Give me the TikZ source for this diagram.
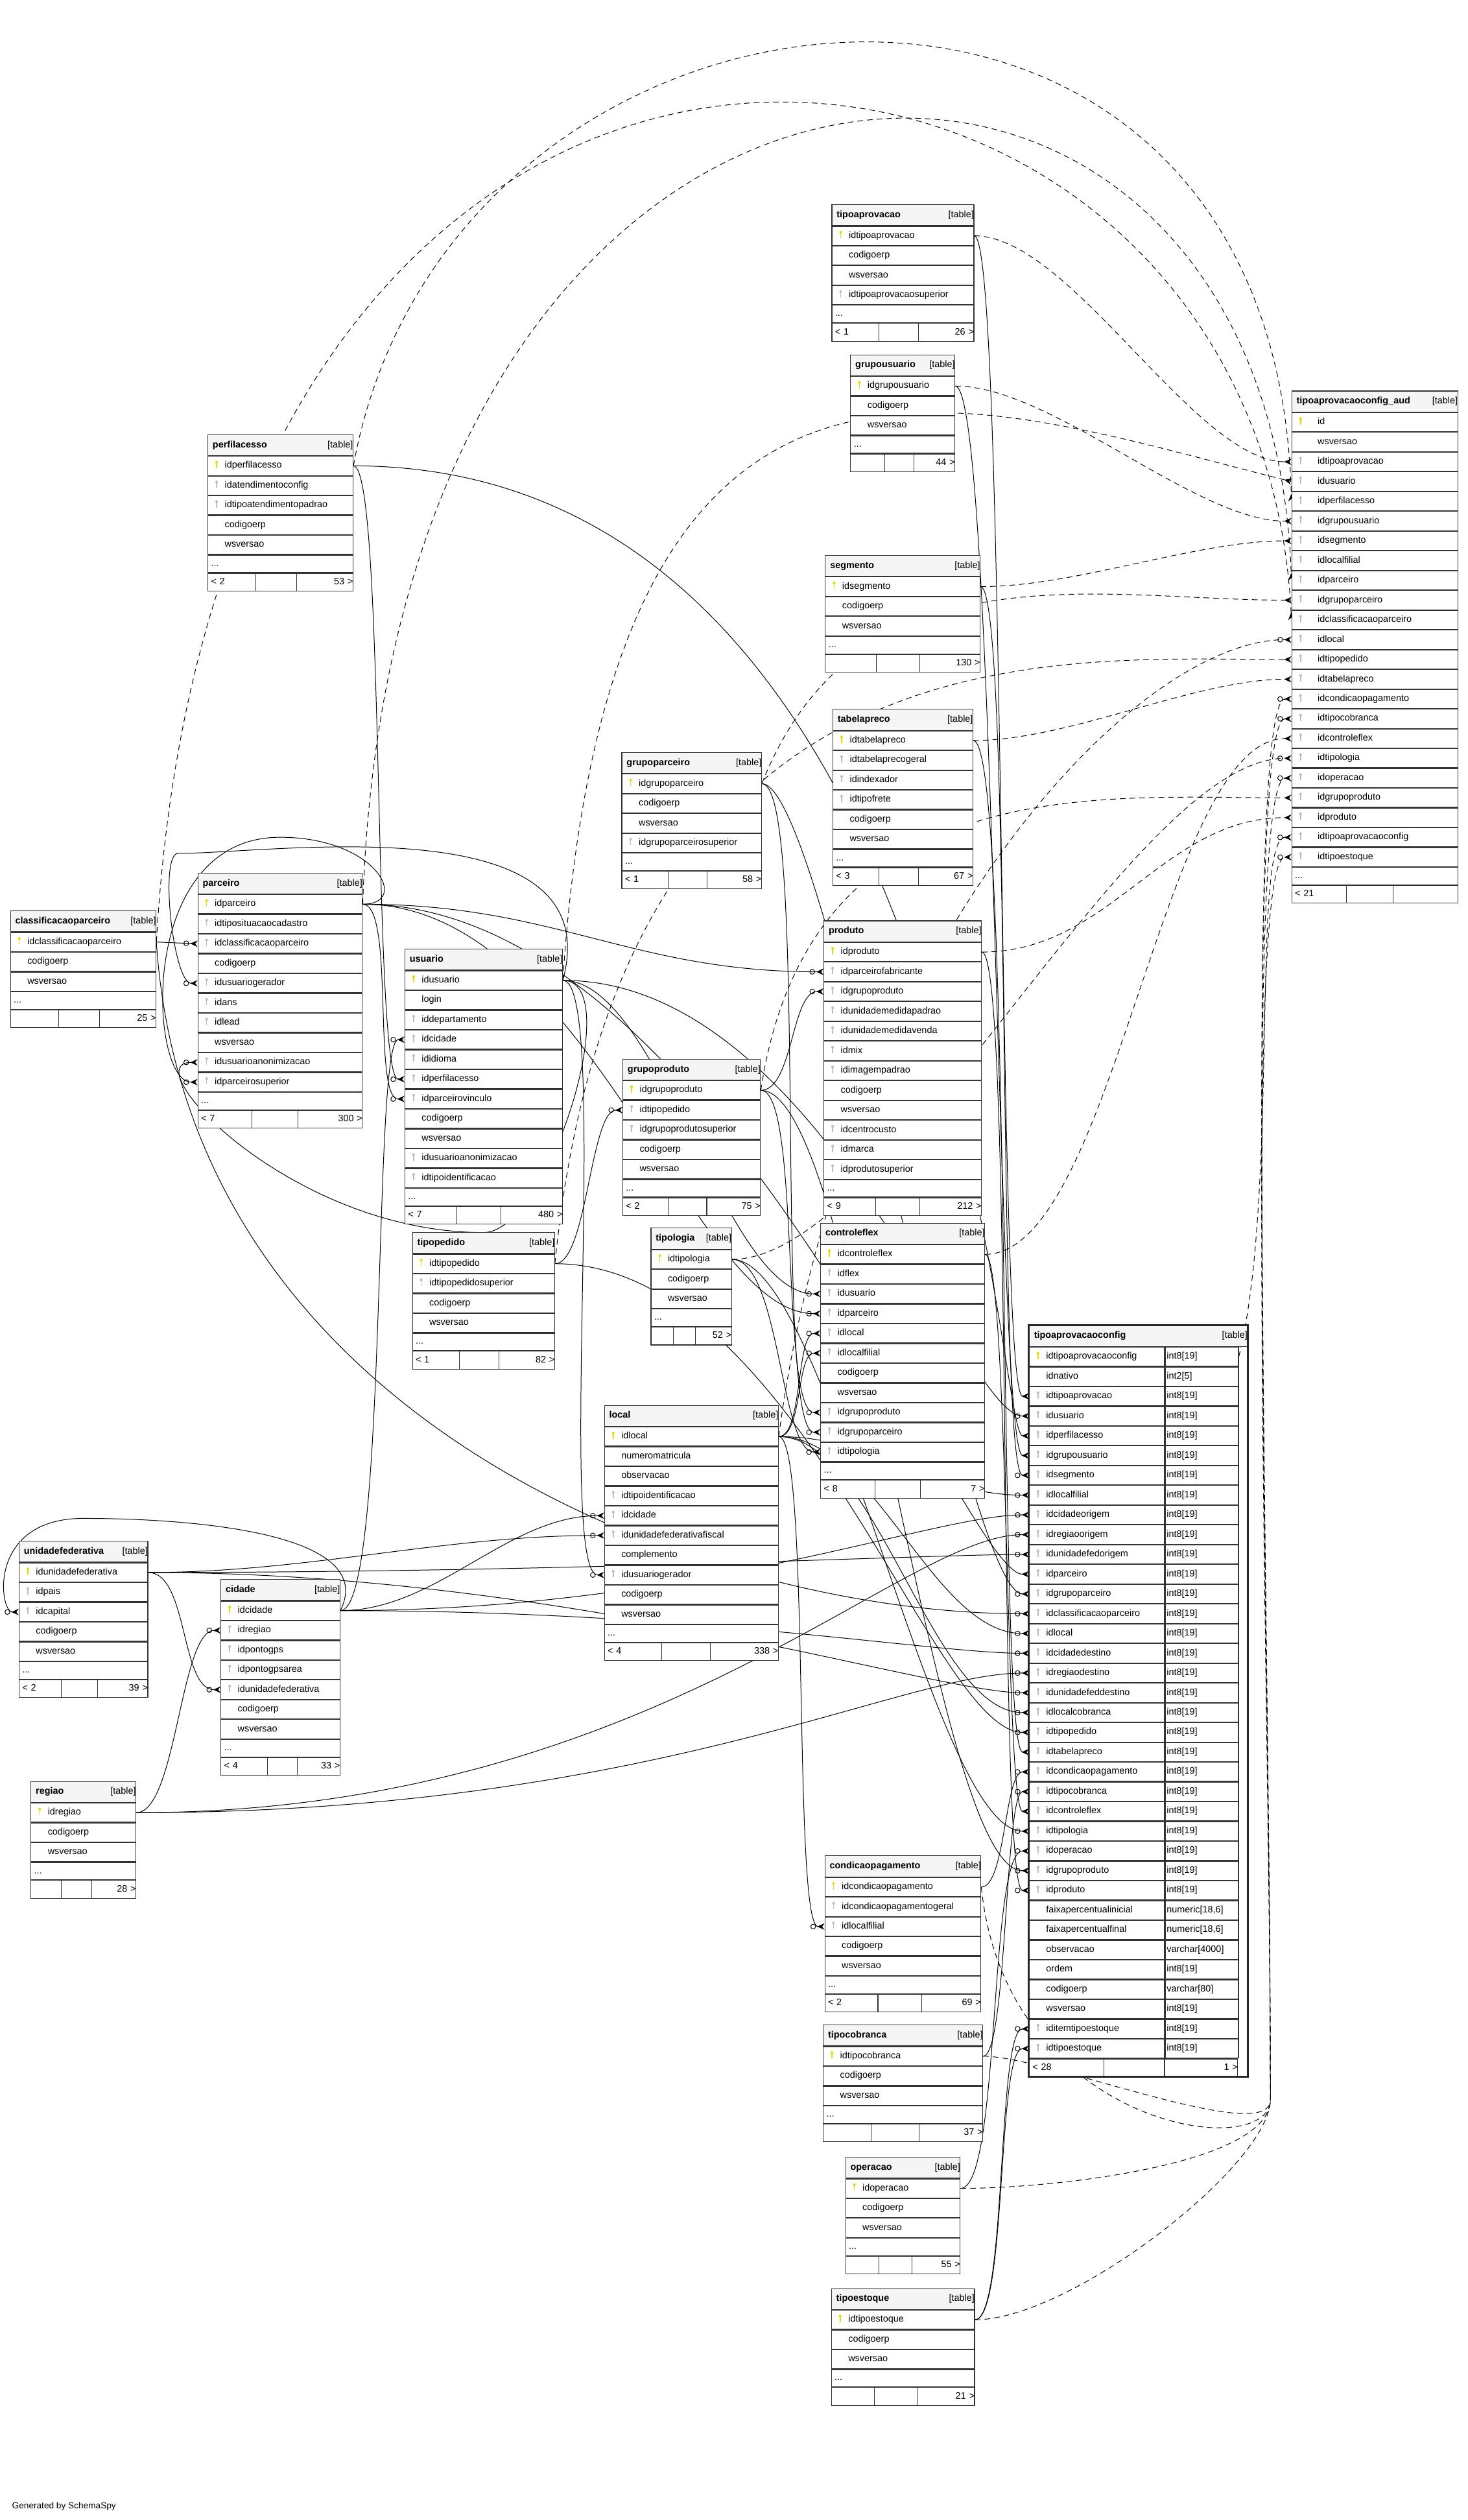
\documentclass[tikz,border=0pt]{standalone}
\usepackage{fontspec}
\setmainfont{Liberation Sans}
\usetikzlibrary{positioning, arrows.meta, calc, backgrounds}
\definecolor{keyy}{RGB}{226,220,0}
\definecolor{keyg}{RGB}{190,190,190}
\hyphenpenalty=10000
\exhyphenpenalty=10000
\newcommand{\keyicon}[1]{\tikz[baseline=0pt]{\fill[#1] (0pt,0pt) rectangle (0.6pt,3.3pt); \fill[#1] (0.3pt,3.7pt) circle (0.85pt);}}
\newcommand{\pkey}{\makebox[10.5pt][l]{\hspace{4.6pt}\keyicon{keyy}}}
\newcommand{\fkey}{\makebox[10.5pt][l]{\hspace{4.6pt}\keyicon{keyg}}}
\newcommand{\nkey}{\hspace*{10.5pt}}
\newcommand{\tblhead}[1]{\hspace*{3pt}\textbf{#1}\hskip0pt plus1filll[table]\hspace*{2.5pt}}
\newcommand{\tblfoot}[2]{\hspace*{2pt}#1\hskip0pt plus1filll#2\hspace*{2.5pt}}

\begin{document}
\begin{tikzpicture}[x=1pt, y=-1pt, font=\fontsize{5.8}{7}\selectfont,
  tline/.style={draw=black!80, line width=0.45pt},
  hdr/.style={tline, fill=black!4, anchor=north west, inner sep=0pt, minimum height=13pt, text height=4.3pt, text depth=1.4pt, align=left},
  trow/.style={tline, fill=white, inner sep=0pt, minimum height=11.83pt, text height=4.3pt, text depth=1.4pt, align=left},
  tdots/.style={trow, minimum height=10.8pt},
  ffoot/.style 2 args={trow, minimum height=11pt, path picture={
    \draw[black!80, line width=0.45pt]
      ($(path picture bounding box.north west)!#1!(path picture bounding box.north east)$) --
      ($(path picture bounding box.south west)!#1!(path picture bounding box.south east)$)
      ($(path picture bounding box.north west)!#2!(path picture bounding box.north east)$) --
      ($(path picture bounding box.south west)!#2!(path picture bounding box.south east)$);}},
  tfoot/.style={ffoot={.33}{.61}},
  typ/.style={text width=45.5pt},
  rel/.style={draw=black, line width=0.4pt},
  imp/.style={rel, dash pattern=on 3.5pt off 2.5pt},
  fk/.style={-{Circle[open,length=3.4pt,width=3.4pt,sep=0.8pt]Stealth[reversed,length=4.5pt,width=4pt]}},
  fkn/.style={-{Stealth[reversed,length=4.5pt,width=4pt]}}]

\useasboundingbox (0,0) rectangle (912,1565.4);

% tipoaprovacao
\begin{scope}[every node/.append style={text width=88.2pt}]
\node[hdr] (tpa) at (516.6,126.9) {\tblhead{tipoaprovacao}};
\node[trow, below=0pt of tpa] (tpa1) {\pkey idtipoaprovacao};
\node[trow, below=0pt of tpa1] (tpa2) {\nkey codigoerp};
\node[trow, below=0pt of tpa2] (tpa3) {\nkey wsversao};
\node[trow, below=0pt of tpa3] (tpa4) {\fkey idtipoaprovacaosuperior};
\node[tdots, below=0pt of tpa4] (tpad) {\hspace*{2pt}...};
\node[tfoot, below=0pt of tpad] (tpaf) {\tblfoot{< 1}{26 >}};
\end{scope}

% grupousuario
\begin{scope}[every node/.append style={text width=64.8pt}]
\node[hdr] (gu) at (528.2,220.2) {\tblhead{grupousuario}};
\node[trow, below=0pt of gu] (gu1) {\pkey idgrupousuario};
\node[trow, below=0pt of gu1] (gu2) {\nkey codigoerp};
\node[trow, below=0pt of gu2] (gu3) {\nkey wsversao};
\node[tdots, below=0pt of gu3] (gud) {\hspace*{2pt}...};
\node[tfoot, below=0pt of gud] (guf) {\tblfoot{}{44 >}};
\end{scope}

% perfilacesso
\begin{scope}[every node/.append style={text width=90.2pt}]
\node[hdr] (pa) at (128.9,269.8) {\tblhead{perfilacesso}};
\node[trow, below=0pt of pa] (pa1) {\pkey idperfilacesso};
\node[trow, below=0pt of pa1] (pa2) {\fkey idatendimentoconfig};
\node[trow, below=0pt of pa2] (pa3) {\fkey idtipoatendimentopadrao};
\node[trow, below=0pt of pa3] (pa4) {\nkey codigoerp};
\node[trow, below=0pt of pa4] (pa5) {\nkey wsversao};
\node[tdots, below=0pt of pa5] (pad) {\hspace*{2pt}...};
\node[tfoot, below=0pt of pad] (paf) {\tblfoot{< 2}{53 >}};
\end{scope}

% tipoaprovacaoconfig_aud
\begin{scope}[every node/.append style={text width=103.1pt}]
\node[hdr] (aud) at (802.3,242.7) {\tblhead{tipoaprovacaoconfig\_aud}};
\node[trow, below=0pt of aud] (aud1) {\pkey\hspace*{5.6pt}id};
\node[trow, below=0pt of aud1] (aud2) {\nkey\hspace*{5.6pt}wsversao};
\node[trow, below=0pt of aud2] (aud3) {\fkey\hspace*{5.6pt}idtipoaprovacao};
\node[trow, below=0pt of aud3] (aud4) {\fkey\hspace*{5.6pt}idusuario};
\node[trow, below=0pt of aud4] (aud5) {\fkey\hspace*{5.6pt}idperfilacesso};
\node[trow, below=0pt of aud5] (aud6) {\fkey\hspace*{5.6pt}idgrupousuario};
\node[trow, below=0pt of aud6] (aud7) {\fkey\hspace*{5.6pt}idsegmento};
\node[trow, below=0pt of aud7] (aud8) {\fkey\hspace*{5.6pt}idlocalfilial};
\node[trow, below=0pt of aud8] (aud9) {\fkey\hspace*{5.6pt}idparceiro};
\node[trow, below=0pt of aud9] (aud10) {\fkey\hspace*{5.6pt}idgrupoparceiro};
\node[trow, below=0pt of aud10] (aud11) {\fkey\hspace*{5.6pt}idclassificacaoparceiro};
\node[trow, below=0pt of aud11] (aud12) {\fkey\hspace*{5.6pt}idlocal};
\node[trow, below=0pt of aud12] (aud13) {\fkey\hspace*{5.6pt}idtipopedido};
\node[trow, below=0pt of aud13] (aud14) {\fkey\hspace*{5.6pt}idtabelapreco};
\node[trow, below=0pt of aud14] (aud15) {\fkey\hspace*{5.6pt}idcondicaopagamento};
\node[trow, below=0pt of aud15] (aud16) {\fkey\hspace*{5.6pt}idtipocobranca};
\node[trow, below=0pt of aud16] (aud17) {\fkey\hspace*{5.6pt}idcontroleflex};
\node[trow, below=0pt of aud17] (aud18) {\fkey\hspace*{5.6pt}idtipologia};
\node[trow, below=0pt of aud18] (aud19) {\fkey\hspace*{5.6pt}idoperacao};
\node[trow, below=0pt of aud19] (aud20) {\fkey\hspace*{5.6pt}idgrupoproduto};
\node[trow, below=0pt of aud20] (aud21) {\fkey\hspace*{5.6pt}idproduto};
\node[trow, below=0pt of aud21] (aud22) {\fkey\hspace*{5.6pt}idtipoaprovacaoconfig};
\node[trow, below=0pt of aud22] (aud23) {\fkey\hspace*{5.6pt}idtipoestoque};
\node[tdots, below=0pt of aud23] (audd) {\hspace*{2pt}...};
\node[tfoot, below=0pt of audd] (audf) {\tblfoot{< 21}{}};
\end{scope}

% segmento
\begin{scope}[every node/.append style={text width=96.2pt}]
\node[hdr] (seg) at (512.5,344.8) {\tblhead{segmento}};
\node[trow, below=0pt of seg] (seg1) {\pkey idsegmento};
\node[trow, below=0pt of seg1] (seg2) {\nkey codigoerp};
\node[trow, below=0pt of seg2] (seg3) {\nkey wsversao};
\node[tdots, below=0pt of seg3] (segd) {\hspace*{2pt}...};
\node[tfoot, below=0pt of segd] (segf) {\tblfoot{}{130 >}};
\end{scope}

% tabelapreco
\begin{scope}[every node/.append style={text width=87pt}]
\node[hdr] (tbp) at (517.2,440.4) {\tblhead{tabelapreco}};
\node[trow, below=0pt of tbp] (tbp1) {\pkey idtabelapreco};
\node[trow, below=0pt of tbp1] (tbp2) {\fkey idtabelaprecogeral};
\node[trow, below=0pt of tbp2] (tbp3) {\fkey idindexador};
\node[trow, below=0pt of tbp3] (tbp4) {\fkey idtipofrete};
\node[trow, below=0pt of tbp4] (tbp5) {\nkey codigoerp};
\node[trow, below=0pt of tbp5] (tbp6) {\nkey wsversao};
\node[tdots, below=0pt of tbp6] (tbpd) {\hspace*{2pt}...};
\node[tfoot, below=0pt of tbpd] (tbpf) {\tblfoot{< 3}{67 >}};
\end{scope}

% grupoparceiro
\begin{scope}[every node/.append style={text width=86.7pt}]
\node[hdr] (gpar) at (386.1,467.2) {\tblhead{grupoparceiro}};
\node[trow, below=0pt of gpar] (gpar1) {\pkey idgrupoparceiro};
\node[trow, below=0pt of gpar1] (gpar2) {\nkey codigoerp};
\node[trow, below=0pt of gpar2] (gpar3) {\nkey wsversao};
\node[trow, below=0pt of gpar3] (gpar4) {\fkey idgrupoparceirosuperior};
\node[tdots, below=0pt of gpar4] (gpard) {\hspace*{2pt}...};
\node[tfoot, below=0pt of gpard] (gparf) {\tblfoot{< 1}{58 >}};
\end{scope}

% classificacaoparceiro
\begin{scope}[every node/.append style={text width=90.4pt}]
\node[hdr] (cp) at (6.3,565.6) {\tblhead{classificacaoparceiro}};
\node[trow, below=0pt of cp] (cp1) {\pkey idclassificacaoparceiro};
\node[trow, below=0pt of cp1] (cp2) {\nkey codigoerp};
\node[trow, below=0pt of cp2] (cp3) {\nkey wsversao};
\node[tdots, below=0pt of cp3] (cpd) {\hspace*{2pt}...};
\node[tfoot, below=0pt of cpd] (cpf) {\tblfoot{}{25 >}};
\end{scope}

% parceiro
\begin{scope}[every node/.append style={text width=102.2pt}]
\node[hdr] (par) at (122.7,542.1) {\tblhead{parceiro}};
\node[trow, below=0pt of par] (par1) {\pkey idparceiro};
\node[trow, below=0pt of par1] (par2) {\fkey idtiposituacaocadastro};
\node[trow, below=0pt of par2] (par3) {\fkey idclassificacaoparceiro};
\node[trow, below=0pt of par3] (par4) {\nkey codigoerp};
\node[trow, below=0pt of par4] (par5) {\fkey idusuariogerador};
\node[trow, below=0pt of par5] (par6) {\fkey idans};
\node[trow, below=0pt of par6] (par7) {\fkey idlead};
\node[trow, below=0pt of par7] (par8) {\nkey wsversao};
\node[trow, below=0pt of par8] (par9) {\fkey idusuarioanonimizacao};
\node[trow, below=0pt of par9] (par10) {\fkey idparceirosuperior};
\node[tdots, below=0pt of par10] (pard) {\hspace*{2pt}...};
\node[tfoot, below=0pt of pard] (parf) {\tblfoot{< 7}{300 >}};
\end{scope}

% usuario
\begin{scope}[every node/.append style={text width=97.9pt}]
\node[hdr] (usu) at (251.3,589.4) {\tblhead{usuario}};
\node[trow, below=0pt of usu] (usu1) {\pkey idusuario};
\node[trow, below=0pt of usu1] (usu2) {\nkey login};
\node[trow, below=0pt of usu2] (usu3) {\fkey iddepartamento};
\node[trow, below=0pt of usu3] (usu4) {\fkey idcidade};
\node[trow, below=0pt of usu4] (usu5) {\fkey ididioma};
\node[trow, below=0pt of usu5] (usu6) {\fkey idperfilacesso};
\node[trow, below=0pt of usu6] (usu7) {\fkey idparceirovinculo};
\node[trow, below=0pt of usu7] (usu8) {\nkey codigoerp};
\node[trow, below=0pt of usu8] (usu9) {\nkey wsversao};
\node[trow, below=0pt of usu9] (usu10) {\fkey idusuarioanonimizacao};
\node[trow, below=0pt of usu10] (usu11) {\fkey idtipoidentificacao};
\node[tdots, below=0pt of usu11] (usud) {\hspace*{2pt}...};
\node[tfoot, below=0pt of usud] (usuf) {\tblfoot{< 7}{480 >}};
\end{scope}

% produto
\begin{scope}[every node/.append style={text width=97.9pt}]
\node[hdr] (prod) at (511.6,571.8) {\tblhead{produto}};
\node[trow, below=0pt of prod] (prod1) {\pkey idproduto};
\node[trow, below=0pt of prod1] (prod2) {\fkey idparceirofabricante};
\node[trow, below=0pt of prod2] (prod3) {\fkey idgrupoproduto};
\node[trow, below=0pt of prod3] (prod4) {\fkey idunidademedidapadrao};
\node[trow, below=0pt of prod4] (prod5) {\fkey idunidademedidavenda};
\node[trow, below=0pt of prod5] (prod6) {\fkey idmix};
\node[trow, below=0pt of prod6] (prod7) {\fkey idimagempadrao};
\node[trow, below=0pt of prod7] (prod8) {\nkey codigoerp};
\node[trow, below=0pt of prod8] (prod9) {\nkey wsversao};
\node[trow, below=0pt of prod9] (prod10) {\fkey idcentrocusto};
\node[trow, below=0pt of prod10] (prod11) {\fkey idmarca};
\node[trow, below=0pt of prod11] (prod12) {\fkey idprodutosuperior};
\node[tdots, below=0pt of prod12] (prodd) {\hspace*{2pt}...};
\node[tfoot, below=0pt of prodd] (prodf) {\tblfoot{< 9}{212 >}};
\end{scope}

% grupoproduto
\begin{scope}[every node/.append style={text width=85.5pt}]
\node[hdr] (gprod) at (386.7,657.7) {\tblhead{grupoproduto}};
\node[trow, below=0pt of gprod] (gprod1) {\pkey idgrupoproduto};
\node[trow, below=0pt of gprod1] (gprod2) {\fkey idtipopedido};
\node[trow, below=0pt of gprod2] (gprod3) {\fkey idgrupoprodutosuperior};
\node[trow, below=0pt of gprod3] (gprod4) {\nkey codigoerp};
\node[trow, below=0pt of gprod4] (gprod5) {\nkey wsversao};
\node[tdots, below=0pt of gprod5] (gprodd) {\hspace*{2pt}...};
\node[tfoot, below=0pt of gprodd] (gprodf) {\tblfoot{< 2}{75 >}};
\end{scope}

% tipopedido
\begin{scope}[every node/.append style={text width=88.3pt}]
\node[hdr] (tped) at (256,765.4) {\tblhead{tipopedido}};
\node[trow, below=0pt of tped] (tped1) {\pkey idtipopedido};
\node[trow, below=0pt of tped1] (tped2) {\fkey idtipopedidosuperior};
\node[trow, below=0pt of tped2] (tped3) {\nkey codigoerp};
\node[trow, below=0pt of tped3] (tped4) {\nkey wsversao};
\node[tdots, below=0pt of tped4] (tpedd) {\hspace*{2pt}...};
\node[tfoot, below=0pt of tpedd] (tpedf) {\tblfoot{< 1}{82 >}};
\end{scope}

% tipologia
\begin{scope}[every node/.append style={text width=50pt}]
\node[hdr] (tlog) at (404.2,762.7) {\tblhead{tipologia}};
\node[trow, below=0pt of tlog] (tlog1) {\pkey idtipologia};
\node[trow, below=0pt of tlog1] (tlog2) {\nkey codigoerp};
\node[trow, below=0pt of tlog2] (tlog3) {\nkey wsversao};
\node[tdots, below=0pt of tlog3] (tlogd) {\hspace*{2pt}...};
\node[ffoot={.28}{.55}, below=0pt of tlogd] (tlogf) {\tblfoot{}{52 >}};
\end{scope}

% controleflex
\begin{scope}[every node/.append style={text width=101.9pt}]
\node[hdr] (cflex) at (509.6,759.6) {\tblhead{controleflex}};
\node[trow, below=0pt of cflex] (cflex1) {\pkey idcontroleflex};
\node[trow, below=0pt of cflex1] (cflex2) {\fkey idflex};
\node[trow, below=0pt of cflex2] (cflex3) {\fkey idusuario};
\node[trow, below=0pt of cflex3] (cflex4) {\fkey idparceiro};
\node[trow, below=0pt of cflex4] (cflex5) {\fkey idlocal};
\node[trow, below=0pt of cflex5] (cflex6) {\fkey idlocalfilial};
\node[trow, below=0pt of cflex6] (cflex7) {\nkey codigoerp};
\node[trow, below=0pt of cflex7] (cflex8) {\nkey wsversao};
\node[trow, below=0pt of cflex8] (cflex9) {\fkey idgrupoproduto};
\node[trow, below=0pt of cflex9] (cflex10) {\fkey idgrupoparceiro};
\node[trow, below=0pt of cflex10] (cflex11) {\fkey idtipologia};
\node[tdots, below=0pt of cflex11] (cflexd) {\hspace*{2pt}...};
\node[tfoot, below=0pt of cflexd] (cflexf) {\tblfoot{< 8}{7 >}};
\end{scope}

% local
\begin{scope}[every node/.append style={text width=108pt}]
\node[hdr] (loc) at (375.3,872.8) {\tblhead{local}};
\node[trow, below=0pt of loc] (loc1) {\pkey idlocal};
\node[trow, below=0pt of loc1] (loc2) {\nkey numeromatricula};
\node[trow, below=0pt of loc2] (loc3) {\nkey observacao};
\node[trow, below=0pt of loc3] (loc4) {\fkey idtipoidentificacao};
\node[trow, below=0pt of loc4] (loc5) {\fkey idcidade};
\node[trow, below=0pt of loc5] (loc6) {\fkey idunidadefederativafiscal};
\node[trow, below=0pt of loc6] (loc7) {\nkey complemento};
\node[trow, below=0pt of loc7] (loc8) {\fkey idusuariogerador};
\node[trow, below=0pt of loc8] (loc9) {\nkey codigoerp};
\node[trow, below=0pt of loc9] (loc10) {\nkey wsversao};
\node[tdots, below=0pt of loc10] (locd) {\hspace*{2pt}...};
\node[tfoot, below=0pt of locd] (locf) {\tblfoot{< 4}{338 >}};
\end{scope}

% tipoaprovacaoconfig
\begin{scope}[every node/.append style={text width=84pt}]
\node[hdr, text width=135.6pt] (cfg) at (639.2,823.2) {\tblhead{tipoaprovacaoconfig}};
\node[trow, anchor=north west] (cfg1) at (cfg.south west) {\pkey idtipoaprovacaoconfig}; \node[trow, typ, right=0pt of cfg1] (cfgt1) {\hspace*{1pt}int8[19]};
\node[trow, below=0pt of cfg1] (cfg2) {\nkey idnativo}; \node[trow, typ, right=0pt of cfg2] (cfgt2) {\hspace*{1pt}int2[5]};
\node[trow, below=0pt of cfg2] (cfg3) {\fkey idtipoaprovacao}; \node[trow, typ, right=0pt of cfg3] (cfgt3) {\hspace*{1pt}int8[19]};
\node[trow, below=0pt of cfg3] (cfg4) {\fkey idusuario}; \node[trow, typ, right=0pt of cfg4] (cfgt4) {\hspace*{1pt}int8[19]};
\node[trow, below=0pt of cfg4] (cfg5) {\fkey idperfilacesso}; \node[trow, typ, right=0pt of cfg5] (cfgt5) {\hspace*{1pt}int8[19]};
\node[trow, below=0pt of cfg5] (cfg6) {\fkey idgrupousuario}; \node[trow, typ, right=0pt of cfg6] (cfgt6) {\hspace*{1pt}int8[19]};
\node[trow, below=0pt of cfg6] (cfg7) {\fkey idsegmento}; \node[trow, typ, right=0pt of cfg7] (cfgt7) {\hspace*{1pt}int8[19]};
\node[trow, below=0pt of cfg7] (cfg8) {\fkey idlocalfilial}; \node[trow, typ, right=0pt of cfg8] (cfgt8) {\hspace*{1pt}int8[19]};
\node[trow, below=0pt of cfg8] (cfg9) {\fkey idcidadeorigem}; \node[trow, typ, right=0pt of cfg9] (cfgt9) {\hspace*{1pt}int8[19]};
\node[trow, below=0pt of cfg9] (cfg10) {\fkey idregiaoorigem}; \node[trow, typ, right=0pt of cfg10] (cfgt10) {\hspace*{1pt}int8[19]};
\node[trow, below=0pt of cfg10] (cfg11) {\fkey idunidadefedorigem}; \node[trow, typ, right=0pt of cfg11] (cfgt11) {\hspace*{1pt}int8[19]};
\node[trow, below=0pt of cfg11] (cfg12) {\fkey idparceiro}; \node[trow, typ, right=0pt of cfg12] (cfgt12) {\hspace*{1pt}int8[19]};
\node[trow, below=0pt of cfg12] (cfg13) {\fkey idgrupoparceiro}; \node[trow, typ, right=0pt of cfg13] (cfgt13) {\hspace*{1pt}int8[19]};
\node[trow, below=0pt of cfg13] (cfg14) {\fkey idclassificacaoparceiro}; \node[trow, typ, right=0pt of cfg14] (cfgt14) {\hspace*{1pt}int8[19]};
\node[trow, below=0pt of cfg14] (cfg15) {\fkey idlocal}; \node[trow, typ, right=0pt of cfg15] (cfgt15) {\hspace*{1pt}int8[19]};
\node[trow, below=0pt of cfg15] (cfg16) {\fkey idcidadedestino}; \node[trow, typ, right=0pt of cfg16] (cfgt16) {\hspace*{1pt}int8[19]};
\node[trow, below=0pt of cfg16] (cfg17) {\fkey idregiaodestino}; \node[trow, typ, right=0pt of cfg17] (cfgt17) {\hspace*{1pt}int8[19]};
\node[trow, below=0pt of cfg17] (cfg18) {\fkey idunidadefeddestino}; \node[trow, typ, right=0pt of cfg18] (cfgt18) {\hspace*{1pt}int8[19]};
\node[trow, below=0pt of cfg18] (cfg19) {\fkey idlocalcobranca}; \node[trow, typ, right=0pt of cfg19] (cfgt19) {\hspace*{1pt}int8[19]};
\node[trow, below=0pt of cfg19] (cfg20) {\fkey idtipopedido}; \node[trow, typ, right=0pt of cfg20] (cfgt20) {\hspace*{1pt}int8[19]};
\node[trow, below=0pt of cfg20] (cfg21) {\fkey idtabelapreco}; \node[trow, typ, right=0pt of cfg21] (cfgt21) {\hspace*{1pt}int8[19]};
\node[trow, below=0pt of cfg21] (cfg22) {\fkey idcondicaopagamento}; \node[trow, typ, right=0pt of cfg22] (cfgt22) {\hspace*{1pt}int8[19]};
\node[trow, below=0pt of cfg22] (cfg23) {\fkey idtipocobranca}; \node[trow, typ, right=0pt of cfg23] (cfgt23) {\hspace*{1pt}int8[19]};
\node[trow, below=0pt of cfg23] (cfg24) {\fkey idcontroleflex}; \node[trow, typ, right=0pt of cfg24] (cfgt24) {\hspace*{1pt}int8[19]};
\node[trow, below=0pt of cfg24] (cfg25) {\fkey idtipologia}; \node[trow, typ, right=0pt of cfg25] (cfgt25) {\hspace*{1pt}int8[19]};
\node[trow, below=0pt of cfg25] (cfg26) {\fkey idoperacao}; \node[trow, typ, right=0pt of cfg26] (cfgt26) {\hspace*{1pt}int8[19]};
\node[trow, below=0pt of cfg26] (cfg27) {\fkey idgrupoproduto}; \node[trow, typ, right=0pt of cfg27] (cfgt27) {\hspace*{1pt}int8[19]};
\node[trow, below=0pt of cfg27] (cfg28) {\fkey idproduto}; \node[trow, typ, right=0pt of cfg28] (cfgt28) {\hspace*{1pt}int8[19]};
\node[trow, below=0pt of cfg28] (cfg29) {\nkey faixapercentualinicial}; \node[trow, typ, right=0pt of cfg29] (cfgt29) {\hspace*{1pt}numeric[18,6]};
\node[trow, below=0pt of cfg29] (cfg30) {\nkey faixapercentualfinal}; \node[trow, typ, right=0pt of cfg30] (cfgt30) {\hspace*{1pt}numeric[18,6]};
\node[trow, below=0pt of cfg30] (cfg31) {\nkey observacao}; \node[trow, typ, right=0pt of cfg31] (cfgt31) {\hspace*{1pt}varchar[4000]};
\node[trow, below=0pt of cfg31] (cfg32) {\nkey ordem}; \node[trow, typ, right=0pt of cfg32] (cfgt32) {\hspace*{1pt}int8[19]};
\node[trow, below=0pt of cfg32] (cfg33) {\nkey codigoerp}; \node[trow, typ, right=0pt of cfg33] (cfgt33) {\hspace*{1pt}varchar[80]};
\node[trow, below=0pt of cfg33] (cfg34) {\nkey wsversao}; \node[trow, typ, right=0pt of cfg34] (cfgt34) {\hspace*{1pt}int8[19]};
\node[trow, below=0pt of cfg34] (cfg35) {\fkey iditemtipoestoque}; \node[trow, typ, right=0pt of cfg35] (cfgt35) {\hspace*{1pt}int8[19]};
\node[trow, below=0pt of cfg35] (cfg36) {\fkey idtipoestoque}; \node[trow, typ, right=0pt of cfg36] (cfgt36) {\hspace*{1pt}int8[19]};
\node[ffoot={.357}{.649}, anchor=north west, text width=129.5pt] (cfgf) at (cfg36.south west) {\tblfoot{< 28}{1 >}};
\draw[line width=1.2pt, black!85] (cfg.north west) rectangle (cfg.east |- cfgf.south);
\end{scope}

% unidadefederativa
\begin{scope}[every node/.append style={text width=80pt}]
\node[hdr] (uf) at (11.6,957.2) {\tblhead{unidadefederativa}};
\node[trow, below=0pt of uf] (uf1) {\pkey idunidadefederativa};
\node[trow, below=0pt of uf1] (uf2) {\fkey idpais};
\node[trow, below=0pt of uf2] (uf3) {\fkey idcapital};
\node[trow, below=0pt of uf3] (uf4) {\nkey codigoerp};
\node[trow, below=0pt of uf4] (uf5) {\nkey wsversao};
\node[tdots, below=0pt of uf5] (ufd) {\hspace*{2pt}...};
\node[tfoot, below=0pt of ufd] (uff) {\tblfoot{< 2}{39 >}};
\end{scope}

% cidade
\begin{scope}[every node/.append style={text width=74pt}]
\node[hdr] (cid) at (137,980.9) {\tblhead{cidade}};
\node[trow, below=0pt of cid] (cid1) {\pkey idcidade};
\node[trow, below=0pt of cid1] (cid2) {\fkey idregiao};
\node[trow, below=0pt of cid2] (cid3) {\fkey idpontogps};
\node[trow, below=0pt of cid3] (cid4) {\fkey idpontogpsarea};
\node[trow, below=0pt of cid4] (cid5) {\fkey idunidadefederativa};
\node[trow, below=0pt of cid5] (cid6) {\nkey codigoerp};
\node[trow, below=0pt of cid6] (cid7) {\nkey wsversao};
\node[tdots, below=0pt of cid7] (cidd) {\hspace*{2pt}...};
\node[ffoot={.39}{.64}, below=0pt of cidd] (cidf) {\tblfoot{< 4}{33 >}};
\end{scope}

% regiao
\begin{scope}[every node/.append style={text width=65.2pt}]
\node[hdr] (reg) at (19,1106.4) {\tblhead{regiao}};
\node[trow, below=0pt of reg] (reg1) {\pkey idregiao};
\node[trow, below=0pt of reg1] (reg2) {\nkey codigoerp};
\node[trow, below=0pt of reg2] (reg3) {\nkey wsversao};
\node[tdots, below=0pt of reg3] (regd) {\hspace*{2pt}...};
\node[ffoot={.29}{.58}, below=0pt of regd] (regf) {\tblfoot{}{28 >}};
\end{scope}

% condicaopagamento
\begin{scope}[every node/.append style={text width=97pt}]
\node[hdr] (cpag) at (512.2,1152.6) {\tblhead{condicaopagamento}};
\node[trow, below=0pt of cpag] (cpag1) {\pkey idcondicaopagamento};
\node[trow, below=0pt of cpag1] (cpag2) {\fkey idcondicaopagamentogeral};
\node[trow, below=0pt of cpag2] (cpag3) {\fkey idlocalfilial};
\node[trow, below=0pt of cpag3] (cpag4) {\nkey codigoerp};
\node[trow, below=0pt of cpag4] (cpag5) {\nkey wsversao};
\node[tdots, below=0pt of cpag5] (cpagd) {\hspace*{2pt}...};
\node[ffoot={.34}{.62}, below=0pt of cpagd] (cpagf) {\tblfoot{< 2}{69 >}};
\end{scope}

% tipocobranca
\begin{scope}[every node/.append style={text width=99.1pt}]
\node[hdr] (tcob) at (511.2,1257.7) {\tblhead{tipocobranca}};
\node[trow, below=0pt of tcob] (tcob1) {\pkey idtipocobranca};
\node[trow, below=0pt of tcob1] (tcob2) {\nkey codigoerp};
\node[trow, below=0pt of tcob2] (tcob3) {\nkey wsversao};
\node[tdots, below=0pt of tcob3] (tcobd) {\hspace*{2pt}...};
\node[ffoot={.3}{.6}, below=0pt of tcobd] (tcobf) {\tblfoot{}{37 >}};
\end{scope}

% operacao
\begin{scope}[every node/.append style={text width=71.2pt}]
\node[hdr] (oper) at (525.1,1339.8) {\tblhead{operacao}};
\node[trow, below=0pt of oper] (oper1) {\pkey idoperacao};
\node[trow, below=0pt of oper1] (oper2) {\nkey codigoerp};
\node[trow, below=0pt of oper2] (oper3) {\nkey wsversao};
\node[tdots, below=0pt of oper3] (operd) {\hspace*{2pt}...};
\node[ffoot={.29}{.58}, below=0pt of operd] (operf) {\tblfoot{}{55 >}};
\end{scope}

% tipoestoque
\begin{scope}[every node/.append style={text width=88.9pt}]
\node[hdr] (test) at (516.3,1421.4) {\tblhead{tipoestoque}};
\node[trow, below=0pt of test] (test1) {\pkey idtipoestoque};
\node[trow, below=0pt of test1] (test2) {\nkey codigoerp};
\node[trow, below=0pt of test2] (test3) {\nkey wsversao};
\node[tdots, below=0pt of test3] (testd) {\hspace*{2pt}...};
\node[ffoot={.3}{.6}, below=0pt of testd] (testf) {\tblfoot{}{21 >}};
\end{scope}

\node[anchor=west, font=\fontsize{5.5}{6}\selectfont] (gen) at (4,1557) {Generated by SchemaSpy};

\coordinate (cfgc) at ($(cfg.east |- cfgf.south)+(14,14)$);

\begin{scope}[on background layer]
% relations into tipoaprovacaoconfig
\draw[rel,fkn] (tpa1.east) .. controls +(20,0) and +(-20,0) .. (cfg3.west);
\draw[rel,fk] (usu1.east) .. controls +(160,0) and +(-40,0) .. (cfg4.west);
\draw[rel,fkn] (pa1.east) .. controls +(380,0) and +(-20,0) .. (cfg5.west);
\draw[rel,fkn] (gu1.east) .. controls +(25,0) and +(-20,0) .. (cfg6.west);
\draw[rel,fk] (seg1.east) .. controls +(20,0) and +(-20,0) .. (cfg7.west);
\draw[rel,fk] (loc1.east) .. controls +(60,0) and +(-60,0) .. (cfg8.west);
\draw[rel,fk] (cid1.east) .. controls +(220,0) and +(-60,0) .. (cfg9.west);
\draw[rel,fk] (reg1.east) .. controls +(320,0) and +(-80,0) .. (cfg10.west);
\draw[rel,fk] (uf1.east) .. controls +(260,0) and +(-60,0) .. (cfg11.west);
\draw[rel,fkn] (par1.east) .. controls +(220,0) and +(-40,0) .. (cfg12.west);
\draw[rel,fk] (gpar1.east) .. controls +(40,0) and +(-40,0) .. (cfg13.west);
\draw[rel,fk] (cp1.east) .. controls +(20,300) and +(-200,0) .. (cfg14.west);
\draw[rel,fk] (loc1.east) .. controls +(60,0) and +(-60,0) .. (cfg15.west);
\draw[rel,fk] (cid1.east) .. controls +(220,0) and +(-60,0) .. (cfg16.west);
\draw[rel,fk] (reg1.east) .. controls +(320,0) and +(-80,0) .. (cfg17.west);
\draw[rel,fk] (uf1.east) .. controls +(260,0) and +(-60,0) .. (cfg18.west);
\draw[rel,fk] (loc1.east) .. controls +(60,0) and +(-60,0) .. (cfg19.west);
\draw[rel,fk] (tped1.east) .. controls +(150,0) and +(-60,0) .. (cfg20.west);
\draw[rel,fkn] (tbp1.east) .. controls +(25,0) and +(-20,0) .. (cfg21.west);
\draw[rel,fk] (cpag1.east) .. controls +(15,0) and +(-15,0) .. (cfg22.west);
\draw[rel,fk] (tcob1.east) .. controls +(15,0) and +(-15,0) .. (cfg23.west);
\draw[rel,fkn] (cflex1.east) .. controls +(15,0) and +(-15,0) .. (cfg24.west);
\draw[rel,fk] (tlog1.east) .. controls +(60,0) and +(-60,0) .. (cfg25.west);
\draw[rel,fk] (oper1.east) .. controls +(25,0) and +(-25,0) .. (cfg26.west);
\draw[rel,fk] (gprod1.east) .. controls +(60,0) and +(-60,0) .. (cfg27.west);
\draw[rel,fk] (prod1.east) .. controls +(20,0) and +(-20,0) .. (cfg28.west);
\draw[rel,fk] (test1.east) .. controls +(20,0) and +(-20,0) .. (cfg35.west);
\draw[rel,fk] (test1.east) .. controls +(20,0) and +(-20,0) .. (cfg36.west);

% other relations
\draw[rel,fk] (cp1.east) -- (par3.west);
\draw[rel,fk] (par1.east) .. controls +(20,0) and +(-20,0) .. (usu7.west);
\draw[rel,fk] (par1.east) .. controls +(120,0) and +(-120,0) .. (prod2.west);
\draw[rel,fk] (par1.east) .. controls +(140,0) and +(-80,0) .. (cflex4.west);
\draw[rel,fk] (par1.east) .. controls +(30,0) and +(60,0) .. ([yshift=22pt]par.north) .. controls +(-90,0) and +(-30,0) .. (par10.west);
\draw[rel,fk] (usu1.east) .. controls +(30,-110) and +(60,0) .. ([xshift=-12pt,yshift=12pt]par.north west) .. controls +(-12,0) and +(-15,0) .. (par5.west);
\draw[rel,fk] (usu1.east) .. controls +(40,0) and +(40,0) .. ([yshift=-5pt]usuf.south) .. controls +(-120,0) and +(-40,0) .. (par9.west);
\draw[rel,fk] (usu1.east) .. controls +(60,0) and +(-60,0) .. (cflex3.west);
\draw[rel,fk] (usu1.east) .. controls +(30,0) and +(-30,0) .. (loc8.west);
\draw[rel,fk] (pa1.east) .. controls +(20,0) and +(-20,0) .. (usu6.west);
\draw[rel,fk] (cid1.east) .. controls +(25,-50) and +(60,0) .. ([yshift=14pt]uf.north) .. controls +(-60,0) and +(-12,0) .. (uf3.west);
\draw[rel,fk] (cid1.east) .. controls +(30,0) and +(-20,0) .. (usu4.west);
\draw[rel,fk] (cid1.east) .. controls +(60,0) and +(-60,0) .. (loc5.west);
\draw[rel,fk] (uf1.east) .. controls +(25,0) and +(-25,0) .. (cid5.west);
\draw[rel,fk] (uf1.east) .. controls +(100,0) and +(-100,0) .. (loc6.west);
\draw[rel,fk] (reg1.east) .. controls +(25,0) and +(-25,0) .. (cid2.west);
\draw[rel,fk] (tped1.east) .. controls +(20,0) and +(-20,0) .. (gprod2.west);
\draw[rel,fk] (gprod1.east) .. controls +(20,0) and +(-20,0) .. (prod3.west);
\draw[rel,fk] (gprod1.east) .. controls +(25,0) and +(-25,0) .. (cflex9.west);
\draw[rel,fk] (gpar1.east) .. controls +(30,0) and +(-30,0) .. (cflex10.west);
\draw[rel,fk] (tlog1.east) .. controls +(30,0) and +(-25,0) .. (cflex11.west);
\draw[rel,fk] (loc1.east) .. controls +(15,0) and +(-15,0) .. (cflex5.west);
\draw[rel,fk] (loc1.east) .. controls +(15,0) and +(-15,0) .. (cflex6.west);
\draw[rel,fk] (loc1.east) .. controls +(20,0) and +(-20,0) .. (cpag3.west);

% implied relations into tipoaprovacaoconfig_aud
\draw[imp,fkn] (tpa1.east) .. controls +(60,0) and +(-60,0) .. (aud3.west);
\draw[imp,fkn] (usu1.east) .. controls +(30,-450) and +(-200,-50) .. (aud4.west);
\draw[imp,fkn] (pa1.east) .. controls +(60,-330) and +(-10,-400) .. (aud5.west);
\draw[imp,fkn] (gu1.east) .. controls +(60,0) and +(-60,0) .. (aud6.west);
\draw[imp,fkn] (seg1.east) .. controls +(60,0) and +(-60,0) .. (aud7.west);
\draw[imp,fkn] (par1.east) .. controls +(20,-600) and +(-15,-420) .. (aud9.west);
\draw[imp,fkn] (gpar1.east) .. controls +(60,-150) and +(-120,0) .. (aud10.west);
\draw[imp,fkn] (cp1.east) .. controls +(40,-700) and +(-20,-420) .. (aud11.west);
\draw[imp,fk] (loc1.east) .. controls +(40,-300) and +(-100,0) .. (aud12.west);
\draw[imp,fkn] (tped1.east) .. controls +(40,-400) and +(-150,0) .. (aud13.west);
\draw[imp,fkn] (tbp1.east) .. controls +(60,0) and +(-60,0) .. (aud14.west);
\draw[imp,fk] (cpag1.east) .. controls +(15,150) and +(0,40) .. (cfgc) .. controls +(0,-300) and +(-30,0) .. (aud15.west);
\draw[imp,fk] (tcob1.east) .. controls +(40,0) and +(0,30) .. (cfgc) .. controls +(0,-280) and +(-30,0) .. (aud16.west);
\draw[imp,fkn] (cflex1.east) .. controls +(80,0) and +(-80,0) .. (aud17.west);
\draw[imp,fk] (tlog1.east) .. controls +(100,0) and +(-100,0) .. (aud18.west);
\draw[imp,fk] (oper1.east) .. controls +(60,0) and +(0,40) .. (cfgc) .. controls +(0,-260) and +(-30,0) .. (aud19.west);
\draw[imp,fkn] (gprod1.east) .. controls +(30,-200) and +(-120,0) .. (aud20.west);
\draw[imp,fkn] (prod1.east) .. controls +(80,0) and +(-80,0) .. (aud21.west);
\draw[imp,fk] (cfgt1.east) .. controls +(25,-100) and +(-25,0) .. (aud22.west);
\draw[imp,fk] (test1.east) .. controls +(60,0) and +(0,40) .. (cfgc) .. controls +(0,-240) and +(-30,0) .. (aud23.west);
\end{scope}
\end{tikzpicture}
\end{document}
